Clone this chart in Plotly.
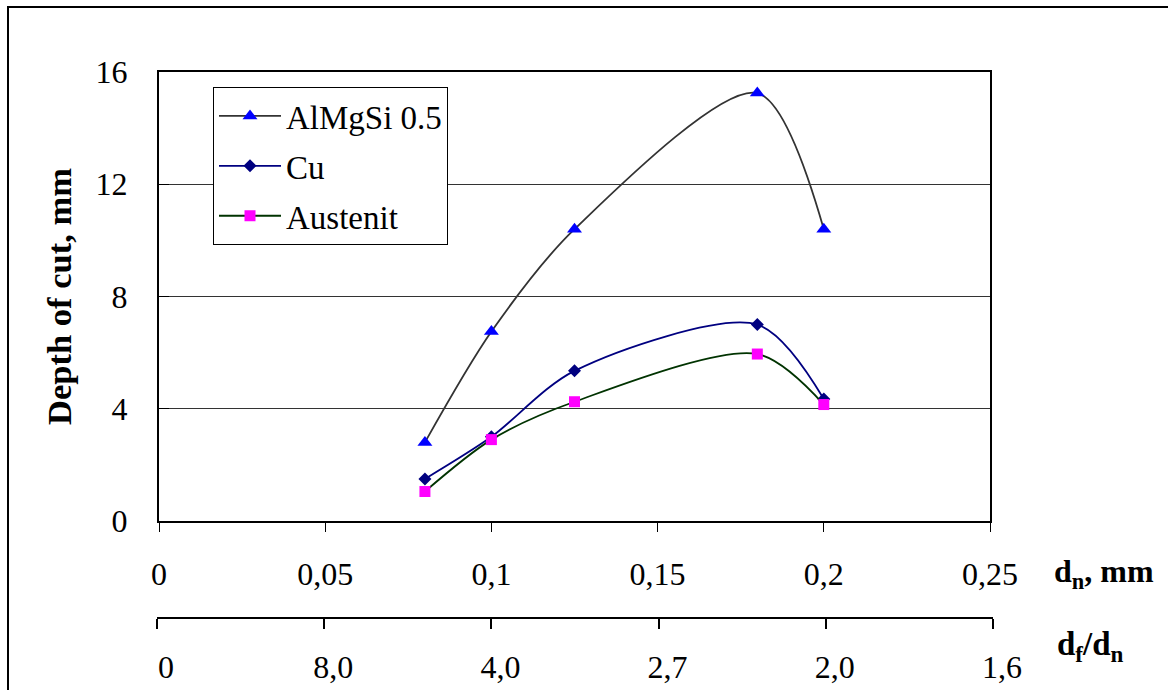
import plotly.graph_objects as go

# ---- data ----
dn = [0.08, 0.1, 0.125, 0.18, 0.2]
almgsi = [2.8, 6.75, 10.4, 15.25, 10.4]
cu = [1.5, 3.0, 5.35, 7.0, 4.35]
austenit = [1.05, 2.9, 4.25, 5.95, 4.15]

x_tickvals = [0, 0.05, 0.1, 0.15, 0.2, 0.25]
x_ticktext = ["0", "0,05", "0,1", "0,15", "0,2", "0,25"]
ratio_ticktext = ["0", "8,0", "4,0", "2,7", "2,0", "1,6"]
y_tickvals = [0, 4, 8, 12, 16]

FONT = "Liberation Serif, Times New Roman, serif"
W, H = 1168, 690

def px_x(p):
    return p / W

def px_y(p):
    return 1 - p / H

fig = go.Figure()

fig.add_trace(go.Scatter(
    x=dn, y=almgsi, name="AlMgSi 0.5", mode="lines+markers",
    line=dict(color="#333333", width=1.8, shape="spline", smoothing=0.85),
    marker=dict(symbol="triangle-up", color="#0000FF", size=13),
    legendgroup="a",
))
fig.add_trace(go.Scatter(
    x=dn, y=cu, name="Cu", mode="lines+markers",
    line=dict(color="#000080", width=1.8, shape="spline", smoothing=0.85),
    marker=dict(symbol="diamond", color="#000080", size=10),
    legendgroup="b",
))
fig.add_trace(go.Scatter(
    x=dn, y=austenit, name="Austenit", mode="lines+markers",
    line=dict(color="#003300", width=1.8, shape="spline", smoothing=0.85),
    marker=dict(symbol="square", color="#FF00FF", size=11),
    legendgroup="c",
))
# empty trace to host the secondary (d_f/d_n) axis
fig.add_trace(go.Scatter(x=[], y=[], xaxis="x2", yaxis="y2", showlegend=False,
                         hoverinfo="skip"))

fig.update_layout(
    width=W, height=H,
    margin=dict(l=0, r=0, t=0, b=0, autoexpand=False),
    paper_bgcolor="white", plot_bgcolor="white",
    font=dict(family=FONT, size=32, color="black"),
    showlegend=True,
    legend=dict(
        x=px_x(213), y=px_y(87), xanchor="left", yanchor="top",
        bgcolor="white", bordercolor="black", borderwidth=1,
        font=dict(family=FONT, size=33, color="black"),
        tracegroupgap=4, traceorder="grouped", itemwidth=62,
    ),
    xaxis=dict(
        domain=[px_x(159), px_x(990)], range=[0, 0.25],
        tickvals=x_tickvals, ticktext=x_ticktext,
        showline=True, linecolor="black", linewidth=2, mirror=True,
        ticks="outside", ticklen=9, tickcolor="black", tickwidth=1,
        showgrid=False, zeroline=False, ticklabelstandoff=15,
        tickfont=dict(family=FONT, size=32, color="black"),
        anchor="y", automargin=False,
    ),
    yaxis=dict(
        domain=[px_y(521), px_y(72)], range=[0, 16],
        tickvals=y_tickvals,
        showline=True, linecolor="black", linewidth=2, mirror=True,
        ticks="inside", ticklen=10, tickcolor="black",
        showgrid=True, gridcolor="#333333", gridwidth=1, zeroline=False,
        ticklabelstandoff=23,
        tickfont=dict(family=FONT, size=32, color="black"),
        title=dict(text="<b>Depth of cut, mm</b>",
                   font=dict(family=FONT, size=34.5, color="black"), standoff=14),
        anchor="x", automargin=False,
    ),
    xaxis2=dict(
        domain=[px_x(157), px_x(993)], range=[0, 0.25],
        tickvals=x_tickvals, ticktext=ratio_ticktext,
        showline=True, linecolor="black", linewidth=2,
        ticks="outside", ticklen=10, tickcolor="black", tickwidth=2,
        showgrid=False, zeroline=False, ticklabelstandoff=11, ticklabelshift=9,
        tickfont=dict(family=FONT, size=32, color="black"),
        anchor="y2", side="bottom", automargin=False,
    ),
    yaxis2=dict(
        domain=[px_y(617), px_y(607)], range=[0, 1], visible=False,
        anchor="x2", automargin=False,
    ),
    shapes=[
        dict(type="rect", xref="paper", yref="paper",
             x0=px_x(8), x1=px_x(1180), y0=px_y(7), y1=px_y(700),
             line=dict(color="black", width=2), fillcolor="rgba(0,0,0,0)",
             layer="below"),
    ],
    annotations=[
        dict(text="<b>d<sub>n</sub>, mm</b>", xref="paper", yref="paper",
             x=px_x(1052), y=px_y(573), xanchor="left", yanchor="middle",
             showarrow=False, font=dict(family=FONT, size=32, color="black")),
        dict(text="<b>d<sub>f</sub>/d<sub>n</sub></b>", xref="paper", yref="paper",
             x=px_x(1055), y=px_y(646), xanchor="left", yanchor="middle",
             showarrow=False, font=dict(family=FONT, size=33, color="black")),
    ],
)

fig.write_html("out.html", config={"displayModeBar": False},
               post_script="document.body.style.margin='0';")
